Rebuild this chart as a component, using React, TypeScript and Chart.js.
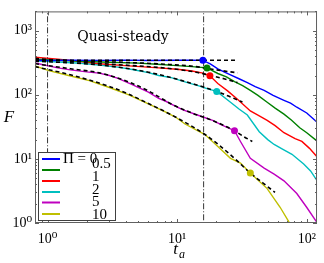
import React, { useEffect, useRef } from 'react';
import { Chart, registerables } from 'chart.js';
Chart.register(...registerables);

// ---------- data ----------
const legendLabels = ['Π = 0', '0.5', '1', '2', '5', '10'];
const seriesColors = ['#0000ff', '#008000', '#ff0000', '#00bfbf', '#bf00bf', '#bfbf00'];

const tPi0 = [0.8, 1.0, 1.5, 2.5, 4, 6, 10, 13, 15.8, 18, 20.6, 23, 25.8, 30, 34.8, 40, 46.9, 55, 66.7, 75, 83.8, 100, 119];
const fPi0 = [345, 343, 346, 344, 347, 343, 346, 348, 345, 303, 254, 228, 205, 178, 155, 134, 117, 98, 82, 74, 64, 52, 38];

const tPi05 = [0.8, 1.2, 2, 3, 5, 7, 10, 13, 17.0, 20.6, 24, 27.7, 32, 36.7, 42, 49.5, 57, 66.7, 76, 88.3, 100, 119];
const fPi05 = [360, 345, 330, 322, 312, 300, 285, 275, 263, 215, 191, 160, 139, 117, 98, 76.5, 62, 50, 40.5, 30.6, 25.6, 19.3];

const tPi1 = [0.8, 1.2, 1.8, 2.5, 4, 7.2, 10, 13, 15.8, 17.9, 20.6, 24.5, 29.2, 36.7, 43, 49.5, 57, 66.7, 81.3, 91.7, 105, 119];
const fPi1 = [385, 360, 330, 305, 285, 263, 250, 235, 218, 198, 150, 115, 85, 56, 47, 40, 33, 25.6, 20.7, 18.7, 14.6, 11];

const tPi2 = [0.8, 1.2, 1.8, 2.5, 3.5, 4.5, 6, 7.2, 9, 12, 14.5, 17, 20.2, 25.8, 30, 34.8, 43, 50, 56, 66, 76.9, 94.7, 107, 119];
const fPi2 = [338, 325, 310, 292, 270, 248, 222, 200, 185, 155, 139, 125, 113, 76.5, 60, 48.4, 26.6, 20, 16.8, 14, 11.8, 8.3, 6.5, 4.72];

const tPi5 = [0.8, 1.2, 1.5, 2, 2.5, 3, 3.5, 4.5, 6, 7.2, 8.1, 9.5, 11.1, 14.5, 18.8, 22, 27.7, 30.8, 36.7, 46.9, 56, 66.7, 83.8, 99.8, 119];
const fPi5 = [313, 263, 245, 228, 218, 200, 180, 144, 110, 88, 80, 68, 58, 48, 40, 34, 27.5, 18.7, 10.2, 7.2, 5.8, 4.55, 2.88, 1.76, 1.04];

const tPi10 = [0.8, 1.04, 1.48, 2.1, 3, 4.24, 6, 8.1, 9.7, 11.5, 16.4, 20.6, 25.8, 30.8, 36.7, 49.5, 62.3, 72.8, 80];
const fPi10 = [282, 236, 198, 166, 130, 100, 72, 54, 45, 35, 24, 15.6, 10.2, 8.6, 6.0, 3.44, 1.76, 1.04, 0.8];

// fitted (dashed) curves
const tFit0 = [0.8, 29.2];
const fFit0 = [345, 345];
const tFit05 = [0.8, 2, 4, 8, 14, 20, 29.2];
const fFit05 = [355, 335, 320, 300, 275, 245, 220];
const tFit1 = [0.8, 2, 4, 8, 14, 18, 23, 29.2];
const fFit1 = [370, 320, 290, 262, 225, 200, 178, 155];
const tFit2 = [0.8, 1.5, 2.5, 4, 6, 9, 13, 20.2, 26, 31.9];
const fFit2 = [335, 315, 292, 260, 225, 185, 150, 113, 92, 77];
const tFit5 = [0.8, 1.5, 2.5, 4, 6, 9, 13, 18, 27.7, 33, 38];
const fFit5 = [305, 255, 220, 165, 115, 72, 52, 41, 27.5, 22, 18.7];
const tFit10 = [0.8, 1.5, 3, 4.24, 6, 9.7, 16.4, 20.6, 28, 36.7, 46, 56.9];
const fFit10 = [275, 205, 135, 102, 73, 45, 24, 17, 10, 6.0, 4.2, 3.0];

// marked transition points
const tMarks = [15.8, 17.0, 17.9, 20.2, 27.7, 36.7];
const fMarks = [345, 263, 198, 113, 27.5, 6.0];

// vertical reference lines
const tVertical = [1, 16];

const xTickValues = [1, 10, 100];
const xTickLabels = ['10⁰', '10¹', '10²'];
const yTickValues = [1, 10, 100, 1000];
const yTickLabels = ['10⁰', '10¹', '10²', '10³'];

const annotationText = 'Quasi-steady';
const annotationAt = { t: 3.82, f: 784 };

// ---------- helpers ----------
const pts = (t: number[], f: number[]) => t.map((x, i) => ({ x, y: f[i] }));

const SERIF = '"Liberation Serif", "DejaVu Serif", serif';

const overlayPlugin = {
  id: 'overlay',
  afterDraw(chart: any) {
    const { ctx, chartArea: a, scales } = chart;
    const xs = scales.x, ys = scales.y;
    ctx.save();
    // frame
    ctx.strokeStyle = '#606060';
    ctx.lineWidth = 1;
    ctx.strokeRect(a.left + 0.5, a.top + 0.5, a.right - a.left - 1, a.bottom - a.top - 1);
    // ticks
    ctx.beginPath();
    const xMinor: number[] = [];
    for (let e = -1; e <= 2; e++) for (let m = 1; m <= 9; m++) xMinor.push(m * Math.pow(10, e));
    xMinor.forEach((v) => {
      if (v < xs.min || v > xs.max) return;
      const major = xTickValues.includes(v);
      const L = major ? 4 : 2;
      const px = Math.round(xs.getPixelForValue(v)) + 0.5;
      ctx.moveTo(px, a.bottom); ctx.lineTo(px, a.bottom - L);
      ctx.moveTo(px, a.top); ctx.lineTo(px, a.top + L);
    });
    const yMinor: number[] = [];
    for (let e = 0; e <= 3; e++) for (let m = 1; m <= 9; m++) yMinor.push(m * Math.pow(10, e));
    yMinor.forEach((v) => {
      if (v < ys.min || v > ys.max) return;
      const major = yTickValues.includes(v);
      const L = major ? 4 : 2;
      const py = Math.round(ys.getPixelForValue(v)) + 0.5;
      ctx.moveTo(a.left, py); ctx.lineTo(a.left + L, py);
      ctx.moveTo(a.right, py); ctx.lineTo(a.right - L, py);
    });
    ctx.stroke();

    // annotation text
    ctx.fillStyle = '#000';
    ctx.font = '14px "DejaVu Serif", serif';
    ctx.textAlign = 'center';
    ctx.textBaseline = 'middle';
    ctx.fillText(annotationText, xs.getPixelForValue(annotationAt.t), ys.getPixelForValue(annotationAt.f));

    // axis titles
    ctx.font = 'italic 17px ' + SERIF;
    ctx.textAlign = 'center';
    ctx.fillText('F', 9, (a.top + a.bottom) / 2);
    const cx = (a.left + a.right) / 2 + 2;
    ctx.font = 'italic 17px ' + SERIF;
    ctx.textAlign = 'right';
    ctx.fillText('t', cx, 250);
    ctx.font = 'italic 12px ' + SERIF;
    ctx.textAlign = 'left';
    ctx.fillText('a', cx + 1, 255);

    // legend
    const bx = a.left + 3, by = 152, bw = 77, bh = 68;
    ctx.fillStyle = '#fff';
    ctx.fillRect(bx, by, bw, bh);
    ctx.strokeStyle = '#404040';
    ctx.lineWidth = 1;
    ctx.strokeRect(bx + 0.5, by + 0.5, bw, bh);
    const rows = [159, 170, 181, 192, 202.5, 214];
    const textShift = [0, -6, -4, -2, 0, 1];
    legendLabels.forEach((lab, i) => {
      ctx.strokeStyle = seriesColors[i];
      ctx.lineWidth = 2;
      ctx.beginPath();
      ctx.moveTo(bx + 4, rows[i]);
      ctx.lineTo(bx + 22, rows[i]);
      ctx.stroke();
      ctx.fillStyle = '#000';
      ctx.font = '15px ' + SERIF;
      ctx.textAlign = 'left';
      ctx.textBaseline = 'middle';
      ctx.fillText(lab, i === 0 ? bx + 25 : bx + 54, rows[i] + textShift[i]);
    });
    ctx.restore();
  },
};

export default function App() {
  const ref = useRef<HTMLCanvasElement | null>(null);
  useEffect(() => {
    if (!ref.current) return;
    const dataSeries = [
      [tPi0, fPi0], [tPi05, fPi05], [tPi1, fPi1], [tPi2, fPi2], [tPi5, fPi5], [tPi10, fPi10],
    ];
    const fitSeries = [
      [tFit0, fFit0], [tFit05, fFit05], [tFit1, fFit1], [tFit2, fFit2], [tFit5, fFit5], [tFit10, fFit10],
    ];
    const datasets: any[] = [];
    tMarks.forEach((t, i) => {
      datasets.push({
        type: 'line', data: [{ x: t, y: fMarks[i] }], showLine: false,
        pointRadius: 3.5, pointBackgroundColor: seriesColors[i], pointBorderColor: seriesColors[i],
        pointBorderWidth: 0, order: 0,
      });
    });
    fitSeries.forEach(([t, f]) => {
      datasets.push({
        type: 'line', data: pts(t as number[], f as number[]), borderColor: '#000', borderWidth: 1.6,
        borderDash: [4, 3], pointRadius: 0, cubicInterpolationMode: 'monotone', order: 1,
      });
    });
    tVertical.forEach((t) => {
      datasets.push({
        type: 'line', data: [{ x: t, y: 0.5 }, { x: t, y: 5000 }], borderColor: '#000', borderWidth: 0.8,
        borderDash: [6, 2, 1, 2], pointRadius: 0, order: 2,
      });
    });
    dataSeries.forEach(([t, f], i) => {
      datasets.push({
        type: 'line', data: pts(t as number[], f as number[]), borderColor: seriesColors[i], borderWidth: 1.4,
        pointRadius: 0, order: 3,
      });
    });

    const chart = new Chart(ref.current, {
      type: 'line',
      data: { datasets },
      options: {
        animation: false,
        responsive: false,
        parsing: false as any,
        layout: { padding: { top: 7, right: 3, left: 0, bottom: 0 } },
        plugins: { legend: { display: false }, tooltip: { enabled: false } },
        scales: {
          x: {
            type: 'logarithmic', min: 0.8, max: 120, position: 'bottom',
            grid: { display: false, drawTicks: false }, border: { display: false },
            ticks: {
              font: { family: SERIF, size: 14 }, color: '#000', padding: 8, maxRotation: 0, autoSkip: false,
              callback: (_v: any, i: number) => xTickLabels[i],
            },
            afterBuildTicks: (s: any) => { s.ticks = xTickValues.map((v) => ({ value: v })); },
            afterFit: (s: any) => { s.height = 40; },
          },
          y: {
            type: 'logarithmic', min: 1, max: 2000,
            grid: { display: false, drawTicks: false }, border: { display: false },
            ticks: {
              font: { family: SERIF, size: 14 }, color: '#000', padding: 3, autoSkip: false,
              callback: (_v: any, i: number) => yTickLabels[i],
            },
            afterBuildTicks: (s: any) => { s.ticks = yTickValues.map((v) => ({ value: v })); },
            afterFit: (s: any) => { s.width = 35; },
          },
        },
      } as any,
      plugins: [overlayPlugin],
    });
    return () => chart.destroy();
  }, []);
  return (
    <div style={{ position: 'absolute', left: 0, top: 0, width: 324, height: 263, background: '#fff' }}>
      <canvas ref={ref} width={324} height={263} />
    </div>
  );
}
